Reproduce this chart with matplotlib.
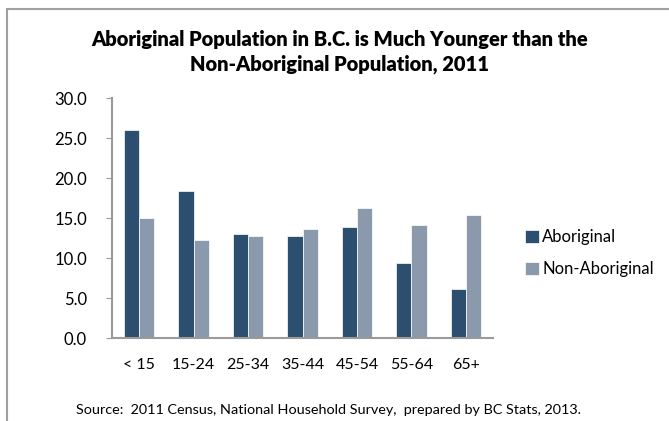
import numpy as np
import matplotlib.pyplot as plt
from matplotlib.patches import Rectangle

age_groups = ["< 15", "15-24", "25-34", "35-44", "45-54", "55-64", "65+"]
aboriginal = [26.0, 18.4, 13.0, 12.8, 13.9, 9.4, 6.2]
non_aboriginal = [15.1, 12.3, 12.8, 13.7, 16.3, 14.2, 15.4]

DARK = "#2c4f70"
LIGHT = "#8a99ab"
AXIS = "#9a9a9a"


def main():
    plt.rcParams["font.family"] = ["Lato", "DejaVu Sans"]
    fig = plt.figure(figsize=(6.69, 4.21), dpi=100)
    ax = fig.add_axes([112 / 669, 1 - 338.3 / 421, 381 / 669, 240 / 421])

    x = np.arange(len(age_groups))
    w = 0.28
    ax.bar(x - w / 2, aboriginal, w, color=DARK, label="Aboriginal",
           edgecolor="white", linewidth=0.5)
    ax.bar(x + w / 2, non_aboriginal, w, color=LIGHT, label="Non-Aboriginal",
           edgecolor="white", linewidth=0.5)

    ax.set_xlim(-0.5, len(age_groups) - 0.5)
    ax.set_ylim(0, 30)
    ax.set_yticks(np.arange(0, 30.1, 5))
    ax.set_yticklabels([f"{v:.1f}" for v in np.arange(0, 30.1, 5)])
    ax.set_xticks(x)
    ax.set_xticklabels(age_groups)
    ax.tick_params(axis="y", length=4, color=AXIS, labelsize=12, pad=14)
    ax.tick_params(axis="x", length=0, labelsize=11.5, pad=14)
    for s in ["top", "right"]:
        ax.spines[s].set_visible(False)
    for s in ["left", "bottom"]:
        ax.spines[s].set_color(AXIS)
        ax.spines[s].set_linewidth(1.5)

    fig.text(340 / 669, 1 - 52 / 421,
             "Aboriginal Population in B.C. is Much Younger than the\nNon-Aboriginal Population, 2011",
             ha="center", va="center", fontsize=14.5, fontweight="heavy",
             linespacing=1.3)

    fig.legend(loc="center left", bbox_to_anchor=(517 / 669, 1 - 253 / 421),
               frameon=False, fontsize=12, handlelength=0.8, handleheight=0.8,
               handletextpad=0.2, labelspacing=0.95, borderpad=0)

    fig.text(328 / 669, 1 - 410 / 421,
             "Source:  2011 Census, National Household Survey,  prepared by BC Stats, 2013.",
             ha="center", va="center", fontsize=10.4)

    # chart area border
    fig.add_artist(Rectangle((7 / 669, -0.1), 1.0, 1 - 9 / 421 + 0.1,
                             transform=fig.transFigure, fill=False,
                             edgecolor="#a0a0a0", linewidth=1.5))

    fig.savefig("out.png", dpi=100)


if __name__ == "__main__":
    main()
